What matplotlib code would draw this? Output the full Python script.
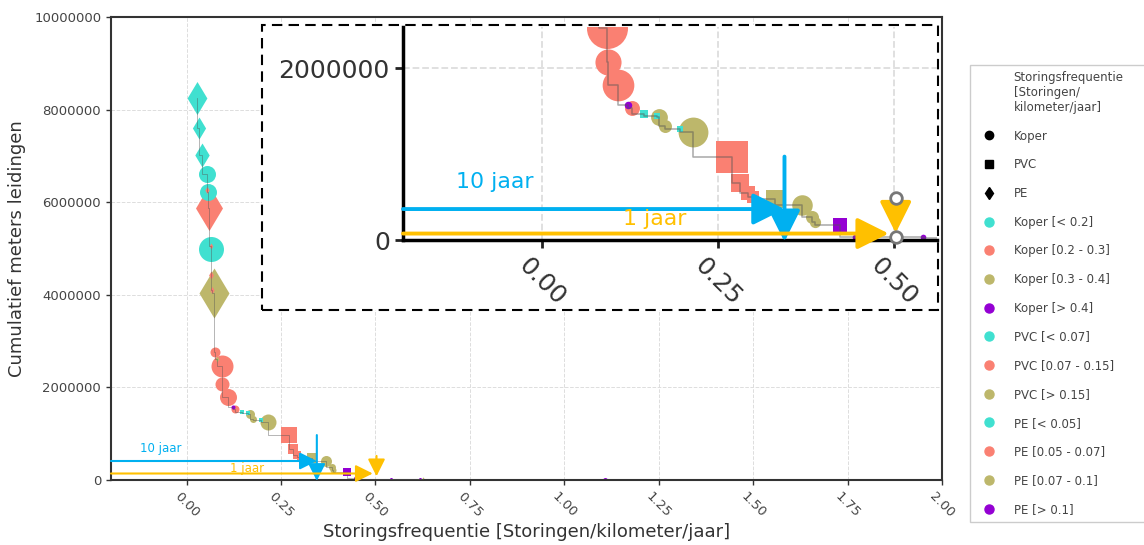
import matplotlib
matplotlib.use("Agg")
import matplotlib.pyplot as plt
from matplotlib.lines import Line2D
from matplotlib.patches import Rectangle
from matplotlib.ticker import FormatStrFormatter

# groepen leidingen, gesorteerd op storingsfrequentie
freq = [0.027, 0.033, 0.040, 0.053, 0.055, 0.057, 0.060, 0.064, 0.065, 0.066,
        0.068, 0.073, 0.075, 0.081, 0.093, 0.094, 0.109, 0.122, 0.128, 0.146,
        0.164, 0.167, 0.175, 0.196, 0.215, 0.270, 0.282, 0.293, 0.300, 0.332,
        0.370, 0.384, 0.388, 0.424, 0.445, 0.542, 0.618, 0.627, 0.883, 1.108]
cum_m = [8.25e6, 7.60e6, 7.01e6, 6.60e6, 6.27e6, 6.21e6, 5.88e6, 5.05e6, 4.98e6, 4.42e6,
         4.10e6, 4.04e6, 2.76e6, 2.61e6, 2.46e6, 2.07e6, 1.80e6, 1.57e6, 1.53e6, 1.46e6,
         1.445e6, 1.43e6, 1.32e6, 1.29e6, 1.26e6, 0.97e6, 0.66e6, 0.55e6, 0.50e6, 0.48e6,
         0.41e6, 0.27e6, 0.21e6, 0.17e6, 0.04e6, 0.03e6, 0.02e6, 0.015e6, 0.01e6, 0.005e6]
materiaal = ["PE", "PE", "PE", "Koper", "PE", "Koper", "PE", "PE", "Koper", "PE",
             "PE", "PE", "Koper", "PE", "Koper", "Koper", "Koper", "Koper", "Koper", "PVC",
             "PVC", "Koper", "Koper", "PVC", "Koper", "PVC", "PVC", "PVC", "PVC", "PVC",
             "Koper", "Koper", "Koper", "PVC", "Koper", "Koper", "Koper", "PE", "Koper", "Koper"]
# 0 = laagste klasse ... 3 = hoogste klasse
klasse = [0, 0, 0, 0, 1, 0, 1, 1, 0, 1,
          1, 2, 1, 2, 1, 1, 1, 3, 1, 0,
          0, 2, 2, 0, 2, 1, 1, 1, 1, 2,
          2, 2, 2, 3, 3, 3, 3, 2, 3, 3]
lengte_km = [705, 313, 373, 374, 32, 374, 1311, 23, 809, 41,
             32, 1619, 130, 23, 627, 254, 374, 21, 83, 21,
             12, 105, 63, 12, 332, 374, 130, 83, 47, 130,
             157, 63, 47, 83, 12, 12, 12, 12, 12, 32]

x_ticks = [0.0, 0.25, 0.5, 0.75, 1.0, 1.25, 1.5, 1.75, 2.0]
y_ticks = [0, 2000000, 4000000, 6000000, 8000000, 10000000]

# grenswaarden voor 10 jaar en 1 jaar
grens_10jaar = 0.345
grens_1jaar = 0.503

legenda_labels = ["Storingsfrequentie\n[Storingen/\nkilometer/jaar]",
                  "Koper", "PVC", "PE",
                  "Koper [< 0.2]", "Koper [0.2 - 0.3]", "Koper [0.3 - 0.4]", "Koper [> 0.4]",
                  "PVC [< 0.07]", "PVC [0.07 - 0.15]", "PVC [> 0.15]",
                  "PE [< 0.05]", "PE [0.05 - 0.07]", "PE [0.07 - 0.1]", "PE [> 0.1]"]
legenda_klasse = [0, 1, 2, 3, 0, 1, 2, 0, 1, 2, 3]

MARKERS = {"Koper": "o", "PVC": "s", "PE": "d"}
KLEUREN = ["#40E0D0", "#FA8072", "#BDB76B", "#9400D3"]
BLAUW = "#00B0F0"
GEEL = "#FFC000"


def pijl(ax, start, eind, kleur, lw, ms):
    ax.annotate("", xy=eind, xytext=start, annotation_clip=False,
                arrowprops=dict(arrowstyle="-|>", color=kleur, lw=lw,
                                mutation_scale=ms, shrinkA=0, shrinkB=0),
                zorder=6)


def teken(ax, f, blauw_y, geel_y, xmin):
    ax.step(freq, cum_m, where="pre", color="#555555", lw=0.6 * f,
            alpha=0.5, zorder=3)
    # van hoge naar lage frequentie, zodat kleine groepen bovenop liggen
    for i in reversed(range(len(freq))):
        ax.scatter(freq[i], cum_m[i], s=0.4 * lengte_km[i] * f ** 2,
                   marker=MARKERS[materiaal[i]], color=KLEUREN[klasse[i]],
                   linewidths=0, zorder=2)
    ax.grid(True, ls="--", lw=0.7 * f, color="#dddddd")
    ax.set_axisbelow(True)

    pijl(ax, (xmin, blauw_y), (grens_10jaar, blauw_y), BLAUW, 1.5 * f, 26 * f)
    pijl(ax, (grens_10jaar, 0.97e6), (grens_10jaar, -0.02e6), BLAUW, 1.5 * f, 26 * f)
    pijl(ax, (xmin, geel_y), (grens_1jaar - 0.01, geel_y), GEEL, 1.5 * f, 26 * f)
    pijl(ax, (grens_1jaar, 0.52e6), (grens_1jaar, 0.08e6), GEEL, 1.5 * f, 26 * f)
    ax.text(-0.067, 0.68e6, "10 jaar", color=BLAUW, fontsize=8.5 * f,
            ha="center", va="center", zorder=6)
    ax.text(0.16, 0.24e6, "1 jaar", color=GEEL, fontsize=8.5 * f,
            ha="center", va="center", zorder=6)


fig = plt.figure(figsize=(11.44, 5.45), dpi=100)

# hoofdfiguur
ax = fig.add_axes([0.097, 0.1193, 0.7264, 0.8495])
teken(ax, 1.0, 0.41e6, 0.14e6, -0.2)
ax.set_xlim(-0.2, 2.0)
ax.set_ylim(0, 1e7)
ax.set_xticks(x_ticks)
ax.set_yticks(y_ticks)
ax.xaxis.set_major_formatter(FormatStrFormatter("%.2f"))
ax.yaxis.set_major_formatter(FormatStrFormatter("%d"))
ax.tick_params(labelsize=9.5, labelcolor="#444444", length=3.5, width=1, color="#333333")
for lbl in ax.get_xticklabels():
    lbl.set_rotation(-45)
for sp in ax.spines.values():
    sp.set_linewidth(1.5)
    sp.set_color("#333333")
ax.set_xlabel("Storingsfrequentie [Storingen/kilometer/jaar]", fontsize=13,
              color="#333333", labelpad=2)
ax.set_ylabel("Cumulatief meters leidingen", fontsize=13, color="#333333", labelpad=6)

# kader om de uitvergroting
kader = Rectangle((262 / 1144, 1 - 310 / 545), 676 / 1144, 285 / 545,
                  transform=fig.transFigure, facecolor="white", edgecolor="black",
                  lw=1.5, ls=(0, (5, 3)), zorder=1)
fig.add_artist(kader)

# uitvergroting van de staart
ins = fig.add_axes([403 / 1144, 1 - 240 / 545, 534 / 1144, 213 / 545])
ins.set_zorder(2)
ins.patch.set_alpha(0)
teken(ins, 1.865, 0.36e6, 0.075e6, -0.197)
ins.scatter([grens_1jaar, grens_1jaar], [0.49e6, 0.03e6], s=70, facecolor="white",
            edgecolor="#777777", linewidths=2, zorder=7, clip_on=False)
ins.set_xlim(-0.197, 0.5617)
ins.set_ylim(0, 2.477e6)
ins.set_xticks(x_ticks[:3])
ins.set_yticks(y_ticks[:2])
ins.xaxis.set_major_formatter(FormatStrFormatter("%.2f"))
ins.yaxis.set_major_formatter(FormatStrFormatter("%d"))
ins.tick_params(labelsize=18, labelcolor="#333333", length=6, width=2, color="#222222")
for lbl in ins.get_xticklabels():
    lbl.set_rotation(-45)
ins.spines["top"].set_visible(False)
ins.spines["right"].set_visible(False)
ins.spines["left"].set_linewidth(2.5)
ins.spines["bottom"].set_linewidth(2.5)

# legenda
handles = [Line2D([], [], ls="none", marker="None")]
for m in ["Koper", "PVC", "PE"]:
    handles.append(Line2D([], [], ls="none", marker=MARKERS[m], color="black",
                          markersize=6))
for k in legenda_klasse:
    handles.append(Line2D([], [], ls="none", marker="o", color=KLEUREN[k],
                          markersize=6.5))
fig.legend(handles, legenda_labels, loc="upper left",
           bbox_to_anchor=(970 / 1144, 0.04, 0.3, 1 - 65 / 545 - 0.04),
           mode="expand", borderaxespad=0, fontsize=8.5, labelcolor="#444444",
           frameon=True, fancybox=False, edgecolor="#cccccc", framealpha=1,
           handlelength=2.2, handletextpad=1.0, labelspacing=1.33, borderpad=0.5)

fig.savefig("out.png", dpi=100)
